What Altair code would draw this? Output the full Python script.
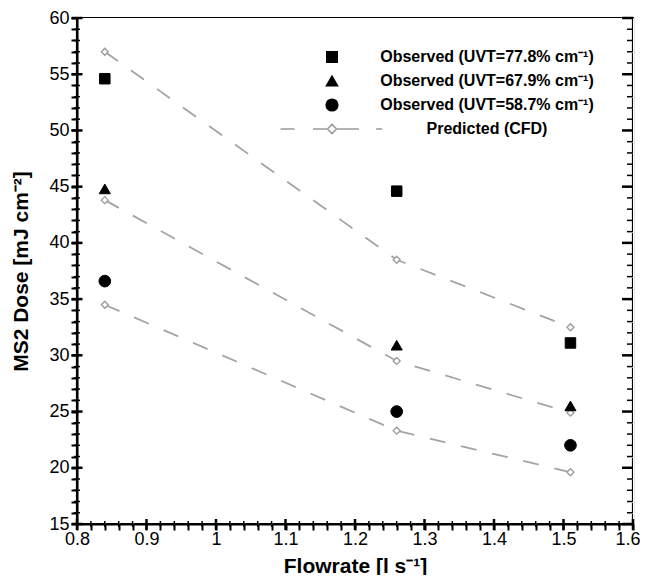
import altair as alt
import pandas as pd

# ---- data ----
flow = [0.84, 1.26, 1.51]
series_labels = [
    "Observed (UVT=77.8% cm\u207b\u00b9)",
    "Observed (UVT=67.9% cm\u207b\u00b9)",
    "Observed (UVT=58.7% cm\u207b\u00b9)",
    "Predicted (CFD)",
]
uvt_groups = ["77.8", "67.9", "58.7"]
observed_778 = [54.6, 44.6, 31.1]
observed_679 = [44.8, 30.9, 25.5]
observed_587 = [36.6, 25.0, 22.0]
predicted_778 = [57.0, 38.5, 32.5]
predicted_679 = [43.8, 29.5, 24.9]
predicted_587 = [34.5, 23.3, 19.6]

x_tick_values = [0.8, 0.82, 0.84, 0.86, 0.88, 0.9, 0.92, 0.94, 0.96, 0.98,
                 1.0, 1.02, 1.04, 1.06, 1.08, 1.1, 1.12, 1.14, 1.16, 1.18,
                 1.2, 1.22, 1.24, 1.26, 1.28, 1.3, 1.32, 1.34, 1.36, 1.38,
                 1.4, 1.42, 1.44, 1.46, 1.48, 1.5, 1.52, 1.54, 1.56, 1.58, 1.6]
y_tick_values = list(range(15, 61))

obs_rows = []
for lab, vals in zip(series_labels[:3], [observed_778, observed_679, observed_587]):
    for f, v in zip(flow, vals):
        obs_rows.append({"flow": f, "dose": v, "series": lab})
obs_df = pd.DataFrame(obs_rows)

pred_rows = []
for g, vals in zip(uvt_groups, [predicted_778, predicted_679, predicted_587]):
    for f, v in zip(flow, vals):
        pred_rows.append({"flow": f, "dose": v, "group": g})
pred_df = pd.DataFrame(pred_rows)

xtick_df = pd.DataFrame({"v": x_tick_values})
ytick_df = pd.DataFrame({"v": y_tick_values})

W, H = 556, 506
FONT = "Liberation Sans"

xscale = alt.Scale(domain=[0.8, 1.6], nice=False, zero=False)
yscale = alt.Scale(domain=[15, 60], nice=False, zero=False)

x_major = "abs(datum.value * 10 - round(datum.value * 10)) < 0.001"
y_major = "datum.value % 5 === 0"
x_last = "datum.value > 1.59"

x_axis = alt.Axis(
    values=x_tick_values, orient="bottom",
    tickSize=6, tickWidth=2, tickColor="black",
    domainColor="black", domainWidth=2, gridColor="white",
    title="Flowrate [l s\u207b\u00b9]", titleFont=FONT, titleFontSize=21,
    titleFontWeight="bold", titleColor="black", titleX=W / 2, titleY=48,
    titleBaseline="alphabetic",
    labelFont=FONT, labelFontSize=18, labelColor="black", labelPadding=0,
    labelExpr=f"{x_major} ? format(datum.value, '.1~f') : ''",
    labelAlign={"condition": {"test": x_last, "value": "right"}, "value": "center"},
    labelOffset={"condition": {"test": x_last, "value": 7}, "value": 0},
    labelOverlap=False, labelFlush=False,
)

y_axis = alt.Axis(
    values=y_tick_values, orient="left",
    tickSize=6, tickWidth=2, tickColor="black",
    domainColor="black", domainWidth=2, gridColor="white",
    title="MS2 Dose [mJ cm\u207b\u00b2]", titleFont=FONT, titleFontSize=21,
    titleFontWeight="bold", titleColor="black", titleX=-56, titleY=H / 2,
    titleBaseline="middle",
    labelFont=FONT, labelFontSize=18, labelColor="black", labelPadding=2,
    labelExpr=f"{y_major} ? datum.label : ''",
    labelOverlap=False, labelFlush=False,
)


# ---- tick marks crossing the frame, drawn from the tick value lists ----
def y_ticks(test, xc, length, thick):
    return alt.Chart(ytick_df).transform_filter(test).mark_tick(
        color="black", orient="horizontal", size=length, thickness=thick, opacity=1
    ).encode(
        y=alt.Y("v:Q", scale=yscale, axis=None),
        x=alt.value(xc),
    )


def x_ticks(test, yc, length, thick):
    return alt.Chart(xtick_df).transform_filter(test).mark_tick(
        color="black", orient="vertical", size=length, thickness=thick, opacity=1
    ).encode(
        x=alt.X("v:Q", scale=xscale, axis=None),
        y=alt.value(yc),
    )


ymaj = "datum.v % 5 === 0"
ymin = "datum.v % 5 !== 0"
xmaj = "abs(datum.v * 10 - round(datum.v * 10)) < 0.001"
xmin = "abs(datum.v * 10 - round(datum.v * 10)) >= 0.001"

tick_layers = [
    y_ticks(ymaj, 0, 11, 2.5),
    y_ticks(ymin, 0, 6, 1.5),
    y_ticks(ymaj, W - 5.5, 11, 2.5),
    y_ticks(ymin, W - 3, 6, 1.5),
    x_ticks(xmaj, H + 0.5, 11, 2.5),
    x_ticks(xmin, H, 6, 1.5),
]

pred_line = alt.Chart(pred_df).mark_line(
    color="#a4a4a4", strokeWidth=1.8, strokeDash=[16, 16]
).encode(
    x=alt.X("flow:Q", scale=xscale, axis=x_axis),
    y=alt.Y("dose:Q", scale=yscale, axis=y_axis),
    detail="group:N",
)

pred_pts = alt.Chart(pred_df).mark_point(
    shape="diamond", filled=True, fill="white", stroke="#9a9a9a",
    strokeWidth=1.3, size=49, opacity=1
).encode(
    x=alt.X("flow:Q", scale=xscale, axis=None),
    y=alt.Y("dose:Q", scale=yscale, axis=None),
)

pred_symbol = ("M-8.4,0H-6.1M-3.1,0H-0.75M0.75,0H4.4M7.2,0H8.2"
               "M-0.75,0L0,-0.75L0.75,0L0,0.75Z")

legend = alt.Legend(
    orient="none", legendX=247, legendY=31, title=None, padding=0,
    labelFont=FONT, labelFontSize=16, labelFontWeight="bold", labelColor="black",
    labelAlign="center", labelOffset=147, labelLimit=0,
    symbolStrokeWidth=1.5, rowPadding=7,
)

obs_pts = alt.Chart(obs_df).mark_point(filled=True, opacity=1, strokeWidth=1).encode(
    x=alt.X("flow:Q", scale=xscale, axis=None),
    y=alt.Y("dose:Q", scale=yscale, axis=None),
    shape=alt.Shape("series:N", scale=alt.Scale(
        domain=series_labels, range=["square", "triangle-up", "circle", pred_symbol]),
        legend=legend),
    fill=alt.Fill("series:N", scale=alt.Scale(
        domain=series_labels, range=["black", "black", "black", "white"]),
        legend=legend),
    stroke=alt.Stroke("series:N", scale=alt.Scale(
        domain=series_labels, range=["black", "black", "black", "#9a9a9a"]),
        legend=legend),
    size=alt.Size("series:N", scale=alt.Scale(
        domain=series_labels, range=[110, 150, 120, 110]),
        legend=legend),
)

chart = alt.layer(pred_line, *tick_layers, pred_pts, obs_pts).resolve_axis(
    x="independent", y="independent"
).properties(
    width=W, height=H,
    autosize=alt.AutoSizeParams(type="none"),
    padding={"left": 69, "top": 10, "right": 7, "bottom": 51},
    background="white",
).configure_view(stroke="black", strokeWidth=2.2)

chart.save("out.html", embed_options={"renderer": "svg", "actions": False})
